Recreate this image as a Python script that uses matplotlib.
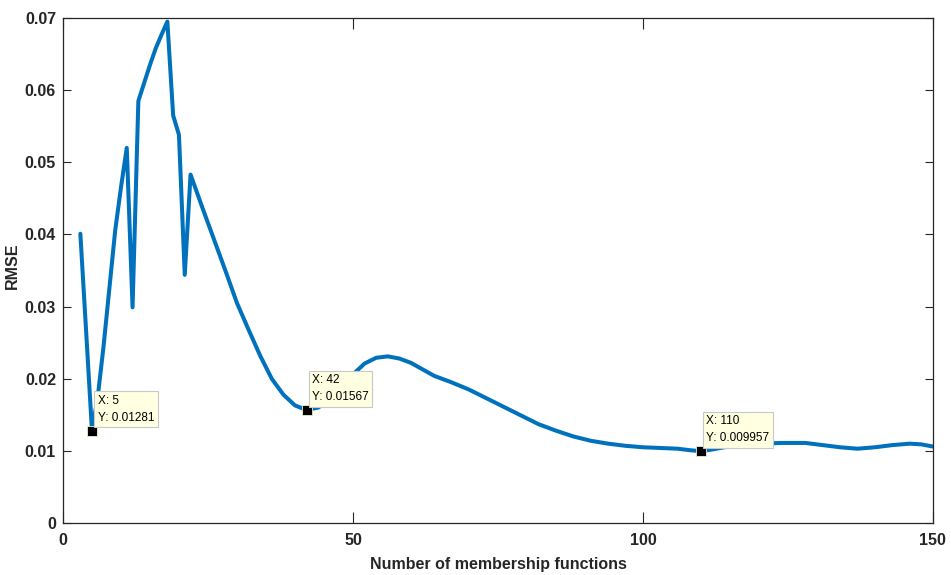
import numpy as np
import matplotlib
matplotlib.use("Agg")
from matplotlib import pyplot as plt

# number of membership functions and RMSE
n_mf = [3, 4, 5, 6, 7, 8, 9, 10, 11, 12, 13, 14, 15, 16, 17, 18, 19, 20, 21, 22,
        24, 26, 28, 30, 32, 34, 36, 38, 40, 42, 44, 46, 48, 50, 52, 54, 56, 58,
        60, 62, 64, 67, 70, 73, 76, 79, 82, 85, 88, 91, 94, 97, 100, 103, 106,
        108, 110, 112, 114, 117, 120, 124, 128, 131, 134, 137, 140, 143, 146,
        148, 150]
rmse = [0.0401, 0.0265, 0.01281, 0.0175, 0.0245, 0.0325, 0.0405, 0.0465, 0.0520,
        0.0299, 0.0585, 0.0610, 0.0635, 0.0658, 0.0677, 0.0695, 0.0565, 0.0538,
        0.0344, 0.0483,
        0.0438, 0.0394, 0.0350, 0.0305, 0.0268, 0.0232, 0.0200, 0.0178, 0.0163,
        0.01567, 0.0160, 0.0170, 0.0188, 0.0206, 0.0221, 0.0229, 0.0231, 0.0228,
        0.0222, 0.0213, 0.0204, 0.0195, 0.0185, 0.0173, 0.0161, 0.0149, 0.0137,
        0.0128, 0.0120, 0.0114, 0.0110, 0.0107, 0.0105, 0.0104, 0.0103,
        0.0101, 0.009957, 0.0102, 0.0105, 0.0108, 0.0110, 0.0111, 0.0111, 0.0108,
        0.0105, 0.0103, 0.0105, 0.0108, 0.0110, 0.0109, 0.0106]

# data tips shown on the figure
tip_x = [5, 42, 110]
tip_y = [0.01281, 0.01567, 0.009957]

x_ticks = [0, 50, 100, 150]
y_ticks = [0, 0.01, 0.02, 0.03, 0.04, 0.05, 0.06, 0.07]
y_tick_labels = ["0", "0.01", "0.02", "0.03", "0.04", "0.05", "0.06", "0.07"]

plt.rcParams['font.family'] = ['Liberation Sans', 'DejaVu Sans']

fig = plt.figure(figsize=(9.51, 5.75), dpi=100)
ax = fig.add_axes([0.0662, 0.0904, 0.9148, 0.8783])

ax.plot(n_mf, rmse, color='#0072BD', lw=2.9, solid_joinstyle='round',
        solid_capstyle='round', zorder=2)

ax.set_xlim(0, 150)
ax.set_ylim(0, 0.07)
ax.set_xticks(x_ticks)
ax.set_xticklabels([str(t) for t in x_ticks])
ax.set_yticks(y_ticks)
ax.set_yticklabels(y_tick_labels)

ax.tick_params(direction='in', top=True, right=True, width=0.8, color='#262626',
               labelsize=11.5, pad=5)
ax.tick_params(axis='x', length=8, pad=7)
ax.tick_params(axis='y', length=6)
for lab in ax.get_xticklabels() + ax.get_yticklabels():
    lab.set_fontweight('bold')
    lab.set_color('#262626')
for sp in ax.spines.values():
    sp.set_linewidth(0.9)
    sp.set_color('#262626')

ax.set_xlabel("Number of membership functions", fontsize=11.5, fontweight='bold',
              color='#262626')
ax.set_ylabel("RMSE", fontsize=11.5, fontweight='bold', color='#262626')
ax.xaxis.set_label_coords(0.5, -0.068)
ax.yaxis.set_label_coords(-0.049, 0.51)

# data tips
ax.plot(tip_x, tip_y, 's', ms=6.5, mfc='black', mec='#f0f0c8', mew=0.6, zorder=4)
for tx, ty in zip(tip_x, tip_y):
    ax.annotate("X: %d\nY: %.4g" % (tx, ty), xy=(tx, ty), xytext=(4, 5),
                textcoords='offset points', ha='left', va='bottom', fontsize=8.5,
                color='black', linespacing=1.55, zorder=5,
                bbox=dict(boxstyle='square,pad=0.3', fc='#ffffe1', ec='#c8c8c8', lw=0.8))

fig.savefig("out.png", dpi=100, facecolor='white')
